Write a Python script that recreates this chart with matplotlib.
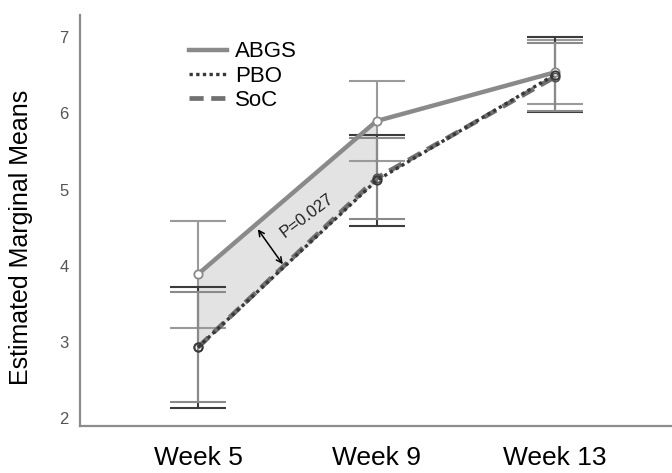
import matplotlib.pyplot as plt
import numpy as np

# Data
weeks = ['Week 5', 'Week 9', 'Week 13']
groups = ['ABGS', 'PBO', 'SoC']
abgs_mean = [3.89, 5.90, 6.54]
abgs_err = [0.70, 0.52, 0.42]
pbo_mean = [2.93, 5.12, 6.51]
pbo_err = [0.79, 0.60, 0.49]
soc_mean = [2.93, 5.15, 6.48]
soc_err = [0.72, 0.53, 0.45]
p_label = 'P=0.027'

plt.rcParams['font.family'] = ['Liberation Sans', 'DejaVu Sans']

x = np.arange(len(weeks))

fig = plt.figure(figsize=(6.72, 4.73), dpi=100)
ax = fig.add_axes([0.119, 0.099, 0.881, 0.869])

# shaded gap between ABGS and the control groups (week 5 to week 9)
ax.fill_between(x[:2], abgs_mean[:2], pbo_mean[:2], color='#e3e3e3', zorder=1)

# error bars
ax.errorbar(x, abgs_mean, yerr=abgs_err, fmt='none', ecolor='#9a9a9a',
            elinewidth=1.5, capsize=20, capthick=1.5, zorder=2)
ax.errorbar(x, pbo_mean, yerr=pbo_err, fmt='none', ecolor='#3c3c3c',
            elinewidth=1.5, capsize=20, capthick=1.5, zorder=2)
ax.errorbar(x, soc_mean, yerr=soc_err, fmt='none', ecolor='#8a8a8a',
            elinewidth=1.5, capsize=20, capthick=1.5, zorder=2)

# lines
ax.plot(x, abgs_mean, color='#8a8a8a', lw=3.2, marker='o', ms=6,
        mfc='white', mec='#8a8a8a', mew=1.3, label='ABGS', zorder=4)
ax.plot(x, soc_mean, color='#707070', lw=3.4, ls=(0, (3, 1.6)), marker='o', ms=6,
        mfc='none', mec='#555555', mew=1.3, label='SoC', zorder=4)
ax.plot(x, pbo_mean, color='#383838', lw=2.4, ls=(0, (1, 1)), marker='o', ms=6,
        mfc='none', mec='#383838', mew=1.3, label='PBO', zorder=5)

# significance arrow and label
ax.annotate('', xy=(0.335, 4.48), xytext=(0.475, 4.02),
            arrowprops=dict(arrowstyle='<->', color='black', lw=1.1,
                            shrinkA=0, shrinkB=0), zorder=6)
ax.text(0.61, 4.66, p_label, rotation=37, ha='center', va='center',
        fontsize=12, color='#222222', zorder=6)

# legend
handles, labels = ax.get_legend_handles_labels()
order = [labels.index(g) for g in groups]
ax.legend([handles[i] for i in order], [labels[i] for i in order],
          loc='upper left', bbox_to_anchor=(0.15, 0.985), frameon=False,
          fontsize=16, handlelength=1.7, handletextpad=0.4,
          labelspacing=0.15)
for h in ax.get_legend().get_lines():
    h.set_marker('')

ax.set_xlim(-0.661, 2.655)
ax.set_ylim(1.895, 7.29)
ax.set_xticks(x)
ax.set_xticklabels(weeks, fontsize=19)
ax.set_yticks([2, 3, 4, 5, 6, 7])
ax.tick_params(axis='x', length=0, pad=14)
ax.tick_params(axis='y', length=0, pad=8, labelsize=12, labelcolor='#555555')
ax.set_ylabel('Estimated Marginal Means', fontsize=18)
ax.yaxis.set_label_coords(-0.08, 0.46)

for s in ['top', 'right']:
    ax.spines[s].set_visible(False)
for s in ['left', 'bottom']:
    ax.spines[s].set_color('#8c8c8c')
    ax.spines[s].set_linewidth(1.6)

fig.savefig('out.png', dpi=100)
